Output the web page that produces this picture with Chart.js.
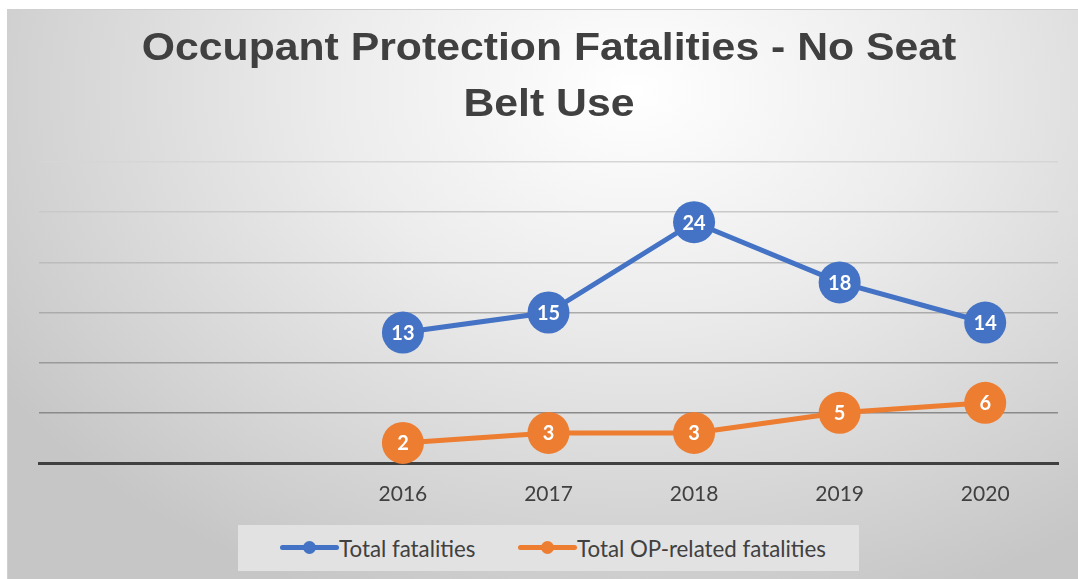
<!DOCTYPE html>
<html>
<head>
<meta charset="utf-8">
<script src="https://cdn.jsdelivr.net/npm/chart.js@4.4.0/dist/chart.umd.min.js"></script>
<style>
  html, body { margin: 0; padding: 0; background: #ffffff; width: 1078px; height: 579px; overflow: hidden; }
  #card {
    position: absolute; left: 7px; top: 9px; width: 1080px; height: 580px;
    box-sizing: border-box; border: 1px solid #d0d0d0;
    background: radial-gradient(ellipse 70% 95% at 58% 14%, #ffffff 0%, #ececec 40%, #d6d6d6 75%, #c6c6c6 100%);
  }
  #title {
    position: absolute; left: 0; top: 9px; width: 1082px; text-align: center;
    font-family: "Liberation Sans", Arial, sans-serif; font-weight: bold; font-size: 38.5px;
    line-height: 56px; color: #404040; transform: scaleX(1.11); transform-origin: 541px 0;
  }
  canvas { position: absolute; left: 0; top: 0; }
  #legend {
    position: absolute; left: 230px; top: 515px; width: 621px; height: 46px;
    background: #e2e2e2; display: flex; align-items: center;
    font-family: Lato, "Open Sans", sans-serif; font-size: 22.3px; color: #404040;
  }
  .item { display: flex; align-items: center; position: absolute; top: 0; height: 46px; }
  .mark { position: relative; width: 59px; height: 20px; }
  .mark .ln { position: absolute; left: 0; top: 7px; width: 59px; height: 5px; border-radius: 3px; }
  .mark .dot { position: absolute; left: 23px; top: 3px; width: 13px; height: 13px; border-radius: 50%; }
</style>
</head>
<body>
<div id="card">
  <canvas id="c" width="1071" height="570"></canvas>
  <div id="title">Occupant Protection Fatalities - No Seat<br>Belt Use</div>
  <div id="legend">
    <div class="item" style="left:42px"><div class="mark"><div class="ln" style="background:#4472C4"></div><div class="dot" style="background:#4472C4"></div></div><span id="l0"></span></div>
    <div class="item" style="left:280px"><div class="mark"><div class="ln" style="background:#ED7D31"></div><div class="dot" style="background:#ED7D31"></div></div><span id="l1"></span></div>
  </div>
</div>
<script>
const categories = ['', '', '2016', '2017', '2018', '2019', '2020'];
const totalFatalities = [null, null, 13, 15, 24, 18, 14];
const opRelatedFatalities = [null, null, 2, 3, 3, 5, 6];
const seriesNames = ['Total fatalities', 'Total OP-related fatalities'];
const yTicks = [0, 5, 10, 15, 20, 25, 30];

document.getElementById('l0').textContent = seriesNames[0];
document.getElementById('l1').textContent = seriesNames[1];

const gridColors = {0: '#404040', 5: '#8a8a8a', 10: '#9a9a9a', 15: '#ababab', 20: '#bcbcbc', 25: '#c9c9c9', 30: '#d6d6d6'};

const labelPlugin = {
  id: 'pointLabels',
  afterDatasetsDraw(chart) {
    const ctx = chart.ctx;
    ctx.save();
    ctx.fillStyle = '#ffffff';
    ctx.font = 'bold 20px Lato, "Open Sans", sans-serif';
    ctx.textAlign = 'center';
    ctx.textBaseline = 'middle';
    chart.data.datasets.forEach((ds, i) => {
      const meta = chart.getDatasetMeta(i);
      meta.data.forEach((pt, j) => {
        const v = ds.data[j];
        if (v === null || v === undefined) return;
        ctx.fillText(String(v), pt.x, pt.y + 1);
      });
    });
    ctx.restore();
  }
};

new Chart(document.getElementById('c'), {
  type: 'line',
  data: {
    labels: categories,
    datasets: [
      { label: seriesNames[0], data: totalFatalities, borderColor: '#4472C4', backgroundColor: '#4472C4',
        borderWidth: 5, pointRadius: 21, pointBorderWidth: 0, pointBackgroundColor: '#4472C4', tension: 0, clip: false },
      { label: seriesNames[1], data: opRelatedFatalities, borderColor: '#ED7D31', backgroundColor: '#ED7D31',
        borderWidth: 5, pointRadius: 21, pointBorderWidth: 0, pointBackgroundColor: '#ED7D31', tension: 0, clip: false }
    ]
  },
  options: {
    responsive: false,
    animation: false,
    layout: { padding: { left: 31, right: 18, top: 152, bottom: 0 } },
    plugins: { legend: { display: false }, title: { display: false }, tooltip: { enabled: false } },
    scales: {
      x: {
        offset: true,
        grid: { display: false, drawTicks: false },
        border: { display: true, color: '#404040', width: 3 },
        ticks: { color: '#404040', font: { family: 'Lato, "Open Sans", sans-serif', size: 21 }, padding: 19, maxRotation: 0, autoSkip: false },
        afterFit: s => { s.height = 117; }
      },
      y: {
        min: 0, max: 30,
        afterBuildTicks: s => { s.ticks = yTicks.map(v => ({ value: v })); },
        ticks: { display: false },
        border: { display: false },
        grid: {
          drawTicks: false,
          color: c => gridColors[c.tick.value] || '#bbbbbb',
          lineWidth: c => c.tick.value === 0 ? 3 : 1.5
        },
        afterFit: s => { s.width = 0; }
      }
    }
  },
  plugins: [labelPlugin]
});
</script>
</body>
</html>
